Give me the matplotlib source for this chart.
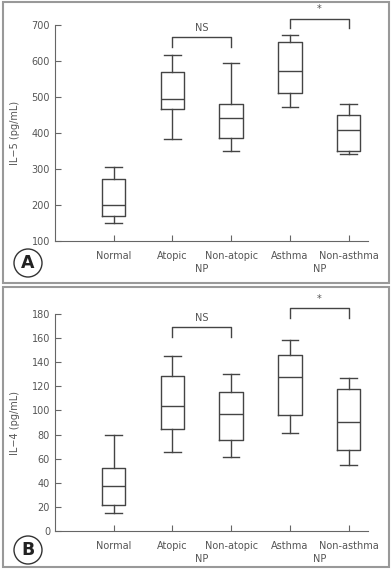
import matplotlib
matplotlib.use("Agg")
import matplotlib.pyplot as plt
from matplotlib.patches import Rectangle, Circle

groups = ['Normal', 'Atopic', 'Non-atopic', 'Asthma', 'Non-asthma']

# IL-5 (pg/mL): low whisker, Q1, median, Q3, high whisker
il5_low = [149, 382, 351, 471, 342]
il5_q1 = [169, 467, 386, 511, 351]
il5_med = [199, 495, 442, 573, 407]
il5_q3 = [272, 569, 480, 653, 451]
il5_high = [305, 616, 594, 673, 481]

# IL-4 (pg/mL)
il4_low = [15, 65.7, 61, 81, 55]
il4_q1 = [21.5, 85, 75.6, 96, 67]
il4_med = [37, 103.5, 97.2, 127.8, 90.5]
il4_q3 = [52, 129, 115, 146, 118]
il4_high = [80, 145.5, 130.3, 158.2, 126.7]

txt = '#555555'
line = '#444444'
plt.rcParams['font.family'] = ['DejaVu Sans']

fig = plt.figure(figsize=(3.92, 5.69), dpi=100)


def panel(rect, low, q1, med, q3, high, ylim, yticks, ylabel, letter,
          ns_y, star_y, frame):
    fig.patches.append(Rectangle(frame[:2], frame[2], frame[3], transform=fig.transFigure,
                                 fill=False, edgecolor='#999999', lw=1.5))
    ax = fig.add_axes(rect)
    stats = []
    for i in range(len(groups)):
        stats.append(dict(whislo=low[i], q1=q1[i], med=med[i], q3=q3[i],
                          whishi=high[i], fliers=[]))
    ax.bxp(stats, positions=range(1, 6), widths=0.4, showfliers=False,
           boxprops=dict(color=line, lw=1), whiskerprops=dict(color=line, lw=1),
           capprops=dict(color=line, lw=1), medianprops=dict(color=line, lw=1),
           capwidths=0.28)
    ax.set_xlim(0, 5.33)
    ax.set_ylim(*ylim)
    ax.set_yticks(yticks)
    ax.set_xticks(range(1, 6))
    ax.set_xticklabels(groups)
    ax.tick_params(direction='in', length=4, color='#666666', labelcolor=txt,
                   labelsize=7)
    ax.tick_params(axis='x', pad=7)
    for s in ['top', 'right']:
        ax.spines[s].set_visible(False)
    for s in ['left', 'bottom']:
        ax.spines[s].set_color('#666666')
    ax.set_ylabel(ylabel, color=txt, fontsize=7, labelpad=8)
    # NP group labels
    for x in [2.5, 4.5]:
        ax.annotate('NP', xy=(x, 0), xycoords=('data', 'axes fraction'),
                    xytext=(0, -23), textcoords='offset pixels',
                    ha='center', va='top', fontsize=7, color=txt,
                    annotation_clip=False)
    # brackets
    span = ylim[1] - ylim[0]
    for (x1, x2, y, lab) in [(2, 3, ns_y, 'NS'), (4, 5, star_y, '*')]:
        d = span * 0.045
        ax.plot([x1, x1, x2, x2], [y - d, y, y, y - d], color=line, lw=1,
                clip_on=False)
        ax.text((x1 + x2) / 2, y + span * 0.02, lab, ha='center', va='bottom',
                fontsize=7, color=txt, clip_on=False)
    # panel letter (circle in inches so it stays round)
    fig.patches.append(Circle((letter[0] / 100, letter[1] / 100), 0.14,
                              transform=fig.dpi_scale_trans,
                              fill=False, edgecolor='#333333', lw=1))
    fig.text(letter[0] / 392, letter[1] / 569, letter[2], ha='center', va='center',
             fontsize=12.5, fontweight='bold', color='#222222')
    return ax


panel([0.140, 0.5765, 0.799, 0.3795], il5_low, il5_q1, il5_med, il5_q3, il5_high,
      (100, 700), range(100, 701, 100), 'IL\u22125 (pg/mL)', (28, 306, 'A'),
      667, 718, (0.008, 0.503, 0.984, 0.494))
panel([0.140, 0.0668, 0.799, 0.3812], il4_low, il4_q1, il4_med, il4_q3, il4_high,
      (0, 180), range(0, 181, 20), 'IL\u22124 (pg/mL)', (28, 19, 'B'),
      169, 185, (0.008, 0.003, 0.984, 0.492))

fig.savefig('out.png', dpi=100)
